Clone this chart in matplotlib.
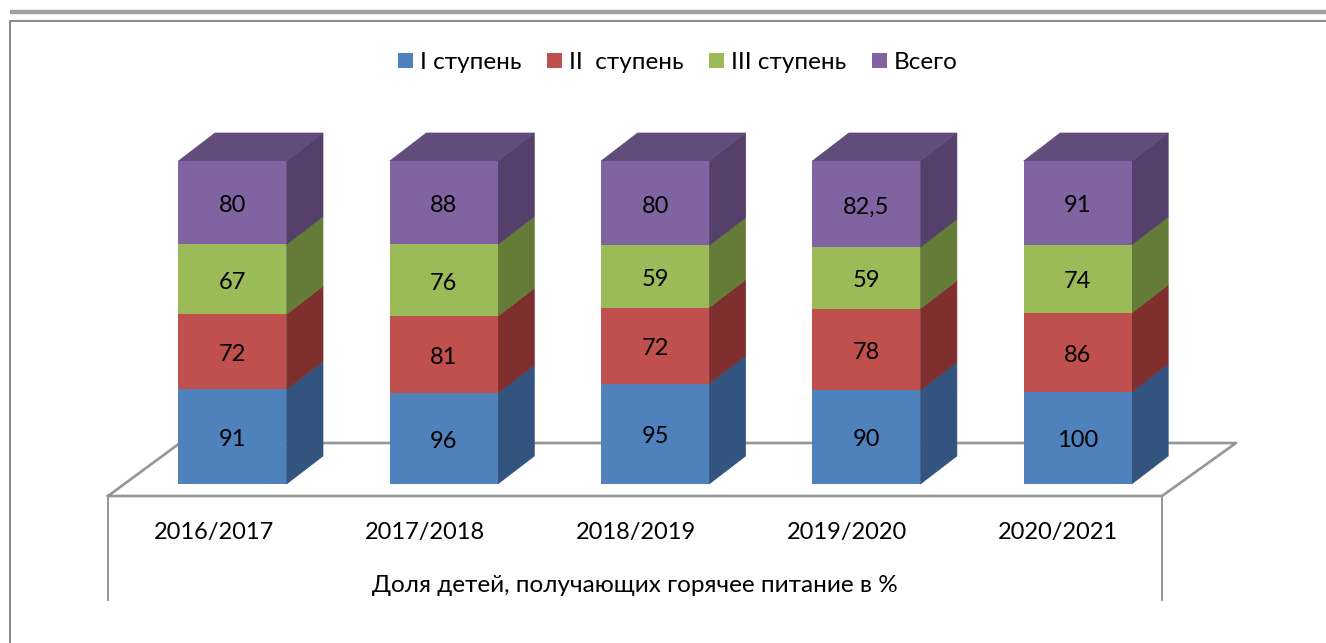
#!/usr/bin/env python3
"""
Share of children receiving hot meals: 3D-looking 100% stacked columns.
"""

import matplotlib
matplotlib.use('Agg')
import matplotlib.pyplot as plt
from matplotlib.patches import Patch, Polygon
import numpy as np

plt.rcParams['font.family'] = ['Lato', 'DejaVu Sans']

years = ['2016/2017', '2017/2018', '2018/2019', '2019/2020', '2020/2021']
series_names = ['I ступень', 'II  ступень', 'III ступень', 'Всего']
stage1 = [91, 96, 95, 90, 100]
stage2 = [72, 81, 72, 78, 86]
stage3 = [67, 76, 59, 59, 74]
total = [80, 88, 80, 82.5, 91]
axis_title = 'Доля детей, получающих горячее питание в %'

front_colors = ['#4F81BD', '#C0504D', '#9BBB59', '#8064A2']
side_colors = ['#33547E', '#7F302E', '#647C38', '#54406A']
top_color = '#624C7C'
line_color = '#969696'

W, H = 1326, 643
PX_X = 211.3  # pixels per category
PX_Y = 3.23   # pixels per percent
X0, Y0 = 232.5, 484  # pixel of first bar centre / baseline


def px(x):
    return (x - X0) / PX_X


def py(y):
    return (Y0 - y) / PX_Y


fig = plt.figure(figsize=(W / 100, H / 100), dpi=100, facecolor='white')
ax = fig.add_axes([0, 0, 1, 1])
ax.set_xlim(px(0), px(W))
ax.set_ylim(py(H), py(0))
ax.axis('off')

# page furniture: rule and chart frame
ax.plot([px(10), px(W)], [py(12), py(12)], color='#A0A0A0', lw=3.2, solid_capstyle='butt')
ax.plot([px(10), px(10), px(W)], [py(H), py(21.5), py(21.5)], color='#8C8C8C', lw=1.5,
        solid_joinstyle='miter')

# floor of the 3D box
ax.plot([px(108), px(1162), px(1236), px(180), px(108)],
        [py(496), py(496), py(443), py(443), py(496)], color=line_color, lw=1.9)
ax.plot([px(108), px(108)], [py(496), py(600)], color=line_color, lw=1.4)
ax.plot([px(1162), px(1162)], [py(496), py(600)], color=line_color, lw=1.4)

values = np.array([stage1, stage2, stage3, total], dtype=float)
shares = values / values.sum(axis=0) * 100
positions = np.arange(len(years))
width = 108 / PX_X
depth_x = 36.5 / PX_X
depth_y = 28 / PX_Y

bottoms = np.zeros(len(years))
for k, name in enumerate(series_names):
    ax.bar(positions, shares[k], width, bottom=bottoms, color=front_colors[k], zorder=3)
    for i, pos in enumerate(positions):
        right = pos + width / 2
        b, t = bottoms[i], bottoms[i] + shares[k][i]
        # thin edge in the face colour closes the seam against the front
        ax.add_patch(Polygon([(right, b), (right + depth_x, b + depth_y),
                              (right + depth_x, t + depth_y), (right, t)],
                             facecolor=side_colors[k], edgecolor=side_colors[k], lw=0.5,
                             zorder=2.9))
        label = f'{values[k][i]:g}'.replace('.', ',')
        ax.text(pos, (b + t) / 2 - 0.9, label, ha='center', va='center', fontsize=17,
                color='black', zorder=4)
    bottoms = bottoms + shares[k]

# tops of the columns
for pos, t in zip(positions, bottoms):
    left, right = pos - width / 2, pos + width / 2
    ax.add_patch(Polygon([(left, t), (left + depth_x, t + depth_y),
                          (right + depth_x, t + depth_y), (right, t)],
                         facecolor=top_color, edgecolor=top_color, lw=0.5, zorder=2.9))

for i, year in enumerate(years):
    ax.text(px(214.5 + 210.8 * i), py(532), year, ha='center', va='center', fontsize=17)
ax.text(px(635), py(585), axis_title, ha='center', va='center', fontsize=17.5)

handles = [Patch(facecolor=c, label=n) for c, n in zip(front_colors, series_names)]
ax.legend(handles=handles, ncol=4, frameon=False, fontsize=17.5,
          loc='center', bbox_to_anchor=(678 / W, 1 - 62.5 / H),
          handlelength=0.6, handleheight=0.6, handletextpad=0.3, columnspacing=1.06)

fig.savefig('out.png', dpi=100, facecolor='white')
